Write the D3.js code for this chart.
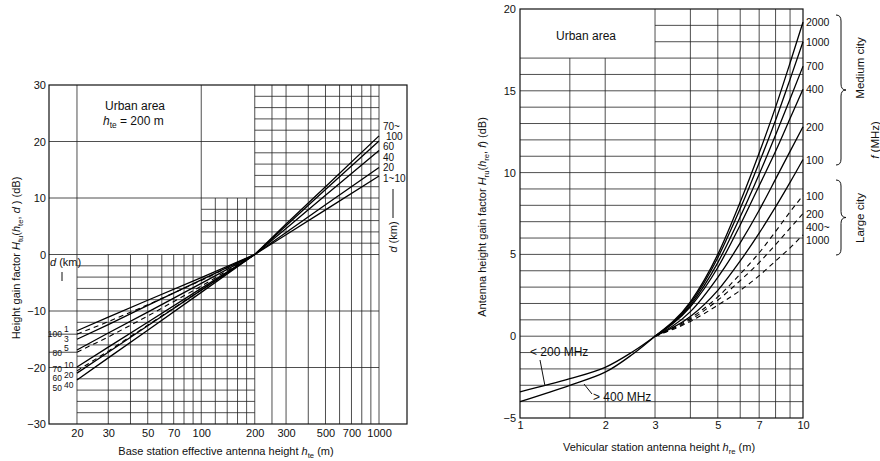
<!DOCTYPE html>
<html>
<head>
<meta charset="utf-8">
<script src="https://cdn.jsdelivr.net/npm/d3@7"></script>
<style>
  body { margin: 0; background: #fff; }
  svg { font-family: "Liberation Sans", Arial, Helvetica, sans-serif; fill: #111; }
  .grid line { stroke: #222; stroke-width: 0.8; }
  .frame { fill: none; stroke: #111; stroke-width: 1.2; }
  .curve { fill: none; stroke: #000; stroke-width: 1.3; }
  .dash { fill: none; stroke: #000; stroke-width: 1.1; stroke-dasharray: 5 4; }
  .tick text { font-size: 11px; fill: #111; }
</style>
</head>
<body>
<svg width="880" height="461"></svg>
<script>
// ---------- left chart: base station (h_te) ----------
const hteTicks = [20, 30, 50, 70, 100, 200, 300, 500, 700, 1000];
const gainTicksL = [-30, -20, -10, 0, 10, 20, 30];

const hteLow = [20, 30, 50, 100, 200];
const lowSolidD = ['1', '3', '5', '10', '20', '40'];
const lowSolid = [
    [-13.5, -11.1, -8.1, -4.1, 0],
    [-15.0, -12.4, -9.0, -4.5, 0],
    [-16.9, -13.9, -10.2, -5.1, 0],
    [-19.9, -16.4, -12.0, -6.0, 0],
    [-21.0, -17.3, -12.6, -6.3, 0],
    [-22.2, -18.3, -13.4, -6.7, 0]
];
const lowDashedD = ['100', '80', '60'];
const lowDashed = [
    [-14.1, -11.9, -8.9, -4.6, 0],
    [-17.3, -14.6, -10.9, -5.6, 0],
    [-20.6, -17.1, -12.5, -6.3, 0]
];
const lowLeftD = ['100', '80', '70', '60', '50'];
const lowLeftAt = [-14.0, -17.4, -20.1, -21.7, -23.6];

const hteHigh = [200, 300, 500, 1000];
const highD = ['70~100', '60', '40', '20', '1~10'];
const highCurves = [
    [0, 5.4, 12.0, 21.0],
    [0, 5.1, 11.5, 20.1],
    [0, 4.6, 10.5, 18.4],
    [0, 3.9, 8.8, 15.4],
    [0, 3.5, 7.9, 13.9]
];

// grid of the left chart
const vFullL = [20, 100, 200, 250, 300, 400, 500, 600, 700, 800, 900, 1000];
const vBelow0L = [30, 40, 50, 60, 70, 80, 90];
const vBelow10L = [120, 140, 160, 180];

// ---------- right chart: vehicular station (h_re) ----------
const hreTicks = [1, 2, 3, 5, 7, 10];
const gainTicksR = [-5, 0, 5, 10, 15, 20];

const hreLow = [1, 1.5, 2, 2.5, 3];
const below200 = [-3.4, -2.6, -1.9, -0.95, 0];
const above400 = [-4.0, -3.0, -2.2, -1.1, 0];

const hreHigh = [3, 4, 5, 6, 7, 8, 9, 10];
const mediumF = ['2000', '1000', '700', '400', '200', '100'];
const mediumCity = [
    [0, 2.1, 5.0, 8.2, 11.2, 14.0, 16.7, 19.2],
    [0, 2.0, 4.8, 7.8, 10.6, 13.2, 15.7, 18.0],
    [0, 1.9, 4.5, 7.3, 9.9, 12.3, 14.5, 16.5],
    [0, 1.8, 4.2, 6.8, 9.2, 11.3, 13.3, 15.1],
    [0, 1.5, 3.6, 5.7, 7.7, 9.6, 11.3, 12.8],
    [0, 1.2, 2.8, 4.6, 6.3, 7.9, 9.4, 10.8]
];
const largeF = ['100', '200', '400~|1000'];
const largeCity = [
    [0, 1.1, 2.4, 3.8, 5.1, 6.4, 7.6, 8.6],
    [0, 1.0, 2.2, 3.4, 4.5, 5.6, 6.6, 7.5],
    [0, 0.9, 1.9, 2.8, 3.7, 4.6, 5.4, 6.2]
];

const vLowR = [1.5, 2];
const vFullR = [3, 4, 5, 6, 7, 8, 9];


const svg = d3.select('svg');

// rich text: parts are [text, kind] with kind '' | 'i' | 's'
function rich(g, parts) {
    let shifted = false;
    parts.forEach(([t, k]) => {
        const ts = g.append('tspan').text(t);
        if (k === 'i') ts.attr('font-style', 'italic');
        if (k === 's') {
            ts.attr('font-size', '0.7em').attr('dy', 3);
            shifted = true;
        } else if (shifted) {
            ts.attr('dy', -3);
            shifted = false;
        }
    });
    return g;
}

function brace(x, y1, y2, w) {
    const ym = (y1 + y2) / 2;
    const r = 6;
    return `M${x},${y1} Q${x + w},${y1} ${x + w},${y1 + r} L${x + w},${ym - r}
            Q${x + w},${ym} ${x + 2 * w},${ym} Q${x + w},${ym} ${x + w},${ym + r}
            L${x + w},${y2 - r} Q${x + w},${y2} ${x},${y2}`;
}

// push baselines apart so that small labels do not sit on each other
function spread(ys, gap) {
    const out = ys.slice();
    for (let i = 1; i < out.length; i++) {
        if (out[i] - out[i - 1] < gap) out[i] = out[i - 1] + gap;
    }
    return out;
}


// ===================== LEFT =====================
const xL = d3.scaleLog().domain([13.92, 1437]).range([49, 407]);
const yL = d3.scaleLinear().domain([-30, 30]).range([424, 85]);

const gL = svg.append('g').attr('class', 'grid');

// 10 dB lines
gL.selectAll('.h10').data([-20, -10, 0, 10, 20]).enter().append('line')
    .attr('x1', xL(13.92)).attr('x2', xL(1000))
    .attr('y1', d => yL(d)).attr('y2', d => yL(d));

// 2 dB lines
const minorLow = d3.range(-28, 0, 2).filter(v => v % 10 !== 0);
const minorMid = [2, 4, 6, 8];
const minorTop = d3.range(12, 30, 2).filter(v => v % 10 !== 0);
gL.selectAll('.hlo').data(minorLow).enter().append('line')
    .attr('x1', xL(20)).attr('x2', xL(200))
    .attr('y1', d => yL(d)).attr('y2', d => yL(d));
gL.selectAll('.hmid').data(minorMid).enter().append('line')
    .attr('x1', xL(100)).attr('x2', xL(1000))
    .attr('y1', d => yL(d)).attr('y2', d => yL(d));
gL.selectAll('.htop').data(minorTop).enter().append('line')
    .attr('x1', xL(200)).attr('x2', xL(1000))
    .attr('y1', d => yL(d)).attr('y2', d => yL(d));

gL.selectAll('.vfull').data(vFullL).enter().append('line')
    .attr('x1', d => xL(d)).attr('x2', d => xL(d))
    .attr('y1', yL(30)).attr('y2', yL(-30));
gL.selectAll('.vb0').data(vBelow0L).enter().append('line')
    .attr('x1', d => xL(d)).attr('x2', d => xL(d))
    .attr('y1', yL(0)).attr('y2', yL(-30));
gL.selectAll('.vb10').data(vBelow10L).enter().append('line')
    .attr('x1', d => xL(d)).attr('x2', d => xL(d))
    .attr('y1', yL(10)).attr('y2', yL(-30));

svg.append('rect').attr('class', 'frame')
    .attr('x', xL(13.92)).attr('y', yL(30))
    .attr('width', xL(1437) - xL(13.92)).attr('height', yL(-30) - yL(30));

// curves
const lineLow = d3.line().x((d, i) => xL(hteLow[i])).y(d => yL(d));
const lineHigh = d3.line().x((d, i) => xL(hteHigh[i])).y(d => yL(d));

svg.append('g').selectAll('path').data(lowSolid).enter().append('path')
    .attr('class', 'curve').attr('d', lineLow);
svg.append('g').selectAll('path').data(lowDashed).enter().append('path')
    .attr('class', 'dash').attr('d', lineLow);
svg.append('g').selectAll('path').data(highCurves).enter().append('path')
    .attr('class', 'curve').attr('d', lineHigh);

// axes
svg.append('g')
    .attr('transform', `translate(${xL(13.92)},0)`)
    .call(d3.axisLeft(yL).tickValues(gainTicksL).tickSize(0).tickPadding(3))
    .call(g => g.select('.domain').remove());
svg.append('g')
    .attr('transform', `translate(0,${yL(-30)})`)
    .call(d3.axisBottom(xL).tickValues(hteTicks).tickFormat(d3.format('d')).tickSize(0).tickPadding(5))
    .call(g => g.select('.domain').remove());

// labels
const lab = svg.append('g').attr('font-size', 10.5);

const small = svg.append('g').attr('font-size', 8.5);
const rightColY = spread(lowSolid.map(d => yL(d[0]) + 1), 9.8);
small.selectAll('.ls').data(lowSolidD).enter().append('text')
    .attr('x', 64).attr('y', (d, i) => rightColY[i])
    .text(d => d);
const leftColY = spread(lowLeftAt.map(d => yL(d) + 3.5), 9.8);
small.selectAll('.ll').data(lowLeftD).enter().append('text')
    .attr('x', 62).attr('text-anchor', 'end')
    .attr('y', (d, i) => leftColY[i])
    .text(d => d);
lab.selectAll('.lk').data(lowDashed.slice(0, 2)).enter().append('line')
    .attr('x1', xL(13.92)).attr('x2', xL(20))
    .attr('y1', d => yL(d[0])).attr('y2', d => yL(d[0]))
    .attr('stroke', '#111').attr('stroke-width', 0.8);

const endL = lab.append('g').attr('font-size', 10);
const endY = spread(highCurves.map(c => yL(c[c.length - 1]) + 4), 10.5);
highCurves.forEach((c, i) => {
    if (highD[i] === '70~100') {
        endL.append('text').attr('x', xL(1000) + 4).attr('y', endY[i] - 10).text('70~');
        endL.append('text').attr('x', xL(1000) + 7).attr('y', endY[i]).text('100');
    } else {
        endL.append('text').attr('x', xL(1000) + 4).attr('y', endY[i]).text(highD[i]);
    }
});

rich(lab.append('text').attr('x', 50).attr('y', 266).attr('font-size', 11),
    [['d', 'i'], [' (km)', '']]);
lab.append('line').attr('x1', 62).attr('x2', 62).attr('y1', 272).attr('y2', 281)
    .attr('stroke', '#111');

rich(lab.append('text').attr('transform', 'translate(397,237) rotate(-90)')
    .attr('text-anchor', 'middle').attr('font-size', 11),
    [['d', 'i'], [' (km)', '']]);
lab.append('line').attr('x1', 393).attr('x2', 393).attr('y1', 189).attr('y2', 218)
    .attr('stroke', '#111');

svg.append('text').attr('x', 105).attr('y', 110).attr('font-size', 12).text('Urban area');
rich(svg.append('text').attr('x', 103).attr('y', 125).attr('font-size', 12),
    [['h', 'i'], ['te', 's'], ['  =  200 m', '']]);

rich(svg.append('text').attr('x', 226).attr('y', 455).attr('text-anchor', 'middle').attr('font-size', 11),
    [['Base station effective antenna height ', ''], ['h', 'i'], ['te', 's'], [' (m)', '']]);
rich(svg.append('text').attr('transform', 'translate(20,258) rotate(-90)')
    .attr('text-anchor', 'middle').attr('font-size', 11),
    [['Height gain factor ', ''], ['H', 'i'], ['tu', 's'], ['(', ''], ['h', 'i'], ['te', 's'],
     [', ', ''], ['d', 'i'], [' ) (dB)', '']]);


// ===================== RIGHT =====================
const xR = d3.scaleLog().domain([1, 10]).range([520, 803]);
const yR = d3.scaleLinear().domain([-5, 20]).range([418, 9]);

const gR = svg.append('g').attr('class', 'grid');
gR.selectAll('.h').data(d3.range(-4, 20)).enter().append('line')
    .attr('x1', d => d <= 17 ? xR(1) : xR(3)).attr('x2', xR(10))
    .attr('y1', d => yR(d)).attr('y2', d => yR(d));
gR.selectAll('.vl').data(vLowR).enter().append('line')
    .attr('x1', d => xR(d)).attr('x2', d => xR(d))
    .attr('y1', yR(17)).attr('y2', yR(-5));
gR.selectAll('.vf').data(vFullR).enter().append('line')
    .attr('x1', d => xR(d)).attr('x2', d => xR(d))
    .attr('y1', yR(20)).attr('y2', yR(-5));

svg.append('rect').attr('class', 'frame')
    .attr('x', xR(1)).attr('y', yR(20))
    .attr('width', xR(10) - xR(1)).attr('height', yR(-5) - yR(20));

const lineRLow = d3.line().x((d, i) => xR(hreLow[i])).y(d => yR(d)).curve(d3.curveCatmullRom);
const lineRHigh = d3.line().x((d, i) => xR(hreHigh[i])).y(d => yR(d)).curve(d3.curveMonotoneX);

svg.append('g').selectAll('path').data([below200, above400]).enter().append('path')
    .attr('class', 'curve').attr('d', lineRLow);
svg.append('g').selectAll('path').data(mediumCity).enter().append('path')
    .attr('class', 'curve').attr('d', lineRHigh);
svg.append('g').selectAll('path').data(largeCity).enter().append('path')
    .attr('class', 'dash').attr('d', lineRHigh);

svg.append('g')
    .attr('transform', `translate(${xR(1)},0)`)
    .call(d3.axisLeft(yR).tickValues(gainTicksR).tickSize(0).tickPadding(4))
    .call(g => g.select('.domain').remove());
svg.append('g')
    .attr('transform', `translate(0,${yR(-5)})`)
    .call(d3.axisBottom(xR).tickValues(hreTicks).tickFormat(d3.format('d')).tickSize(0).tickPadding(3))
    .call(g => g.select('.domain').remove());

const labR = svg.append('g').attr('font-size', 10.5);
mediumCity.forEach((c, i) => {
    labR.append('text').attr('x', xR(10) + 3).attr('y', yR(c[c.length - 1]) + 4).text(mediumF[i]);
});
largeCity.forEach((c, i) => {
    const yEnd = yR(c[c.length - 1]);
    if (largeF[i].includes('|')) {
        const [a, b] = largeF[i].split('|');
        labR.append('text').attr('x', xR(10) + 3).attr('y', yEnd - 4).text(a);
        labR.append('text').attr('x', xR(10) + 3).attr('y', yEnd + 9).text(b);
    } else {
        labR.append('text').attr('x', xR(10) + 3).attr('y', yEnd + 4).text(largeF[i]);
    }
});

svg.append('path').attr('d', brace(836, 15, 165, 5)).attr('fill', 'none').attr('stroke', '#111');
svg.append('path').attr('d', brace(836, 180, 255, 5)).attr('fill', 'none').attr('stroke', '#111');
labR.append('text').attr('transform', 'translate(864,68) rotate(-90)')
    .attr('text-anchor', 'middle').attr('font-size', 11.5).text('Medium city');
labR.append('text').attr('transform', 'translate(864,218) rotate(-90)')
    .attr('text-anchor', 'middle').attr('font-size', 11.5).text('Large city');
rich(labR.append('text').attr('transform', 'translate(879,140) rotate(-90)')
    .attr('text-anchor', 'middle').attr('font-size', 11.5),
    [['f', 'i'], [' (MHz)', '']]);

svg.append('text').attr('x', 586).attr('y', 40).attr('text-anchor', 'middle')
    .attr('font-size', 12).text('Urban area');

svg.append('text').attr('x', 530).attr('y', 356).attr('font-size', 12).text('< 200 MHz');
svg.append('line').attr('x1', 540).attr('y1', 360).attr('x2', 545).attr('y2', 386)
    .attr('stroke', '#111');
svg.append('text').attr('x', 593).attr('y', 401).attr('font-size', 12).text('> 400 MHz');
svg.append('line').attr('x1', 584).attr('y1', 384).attr('x2', 592).attr('y2', 394)
    .attr('stroke', '#111');

rich(svg.append('text').attr('x', 659).attr('y', 451).attr('text-anchor', 'middle').attr('font-size', 11),
    [['Vehicular station antenna height ', ''], ['h', 'i'], ['re', 's'], [' (m)', '']]);
rich(svg.append('text').attr('transform', 'translate(486,217) rotate(-90)')
    .attr('text-anchor', 'middle').attr('font-size', 11),
    [['Antenna height gain factor ', ''], ['H', 'i'], ['ru', 's'], ['(', ''], ['h', 'i'], ['re', 's'],
     [', ', ''], ['f', 'i'], [') (dB)', '']]);
</script>
</body>
</html>
